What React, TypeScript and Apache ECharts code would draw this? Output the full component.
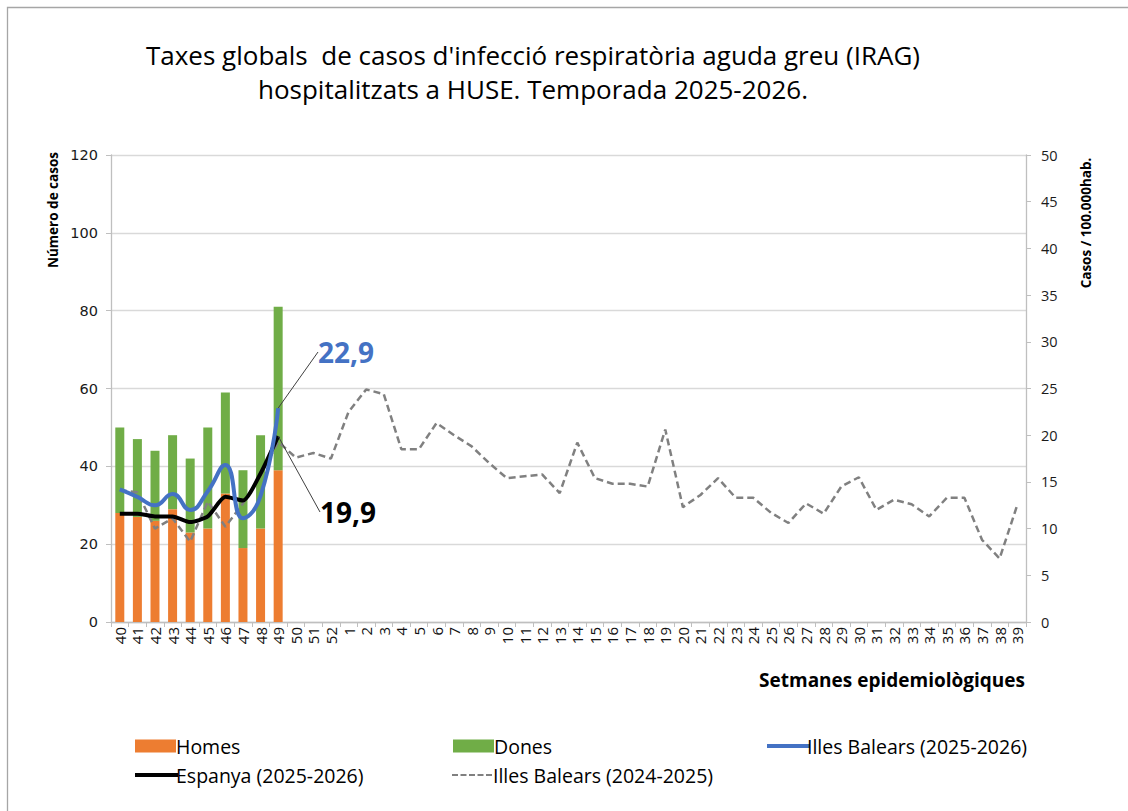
import React, { useEffect, useRef } from "react";
import * as echarts from "echarts";

const weeks = [
  "40","41","42","43","44","45","46","47","48","49","50","51","52",
  "1","2","3","4","5","6","7","8","9","10","11","12","13","14","15","16","17","18","19","20",
  "21","22","23","24","25","26","27","28","29","30","31","32","33","34","35","36","37","38","39",
];
const homes = [28, 27, 26, 29, 23, 24, 33, 19, 24, 39];
const dones = [22, 20, 18, 19, 19, 26, 26, 20, 24, 42];
const balears2526 = [14.2, 13.4, 12.5, 13.7, 12.0, 14.0, 16.8, 11.1, 13.5, 22.9];
const espanya2526 = [11.6, 11.6, 11.3, 11.3, 10.7, 11.3, 13.4, 13.0, 15.9, 19.9];
const balears2425 = [
  14.1, 13.9, 10.0, 11.1, 8.6, 12.9, 10.2, 12.7, 15.7, 19.3, 17.6, 18.1, 17.5,
  22.5, 24.9, 24.4, 18.5, 18.5, 21.3, 20.0, 18.8, 17.0, 15.4, 15.6, 15.8, 13.8, 19.2,
  15.4, 14.8, 14.8, 14.5, 20.6, 12.3, 13.6, 15.4, 13.3, 13.3, 11.7, 10.6, 12.7, 11.6,
  14.5, 15.5, 12.0, 13.1, 12.6, 11.3, 13.3, 13.3, 8.8, 6.8, 12.5,
];
const leftTicks = { min: 0, max: 120, interval: 20 };
const rightTicks = { min: 0, max: 50, interval: 5 };

const titleLines = [
  "Taxes globals  de casos d'infecció respiratòria aguda greu (IRAG)",
  "hospitalitzats a HUSE. Temporada 2025-2026.",
];

function lastLabel(values: number[], color: string) {
  return values.map((v, i) =>
    i === values.length - 1
      ? {
          value: v,
          label: {
            show: true,
            formatter: (p: any) => String(p.value).replace(".", ","),
            color,
            fontSize: 28,
            fontWeight: "bold",
            fontFamily: "Open Sans",
          },
          labelLine: { show: true, length2: 6, lineStyle: { color: "#404040", width: 1 } },
        }
      : v
  );
}

const dashIcon =
  "path://M0,0h6v2h-6z M8.5,0h6v2h-6z M17,0h6v2h-6z M25.5,0h6v2h-6z M34,0h6v2h-6z";

export default function App() {
  const ref = useRef<HTMLDivElement>(null);
  useEffect(() => {
    const chart = echarts.init(ref.current!, undefined, { renderer: "svg" });
    const font = "Open Sans";
    const legendText = { fontSize: 19.5, color: "#000", fontFamily: font };
    const legendBase = { itemGap: 0, selectedMode: false };
    chart.setOption({
      animation: false,
      backgroundColor: "#fff",
      textStyle: { fontFamily: font },
      graphic: [
        {
          type: "rect",
          shape: { x: 7.5, y: 7.5, width: 1300, height: 1000 },
          style: { fill: "none", stroke: "#a6a6a6", lineWidth: 1.3 },
          silent: true,
        },
        ...titleLines.map((t, i) => ({
          type: "text",
          x: 533,
          y: 55 + i * 34,
          style: {
            text: t,
            fontSize: 26,
            fontFamily: font,
            fill: "#000",
            textAlign: "center",
            textVerticalAlign: "middle",
          },
        })),
        {
          type: "text",
          x: 53,
          y: 210,
          rotation: Math.PI / 2,
          style: {
            text: "Número de casos",
            fontSize: 13.5,
            fontWeight: "bold",
            fontFamily: font,
            fill: "#000",
            textAlign: "center",
            textVerticalAlign: "middle",
          },
        },
        {
          type: "text",
          x: 1086,
          y: 223,
          rotation: Math.PI / 2,
          style: {
            text: "Casos / 100.000hab.",
            fontSize: 13.5,
            fontWeight: "bold",
            fontFamily: font,
            fill: "#000",
            textAlign: "center",
            textVerticalAlign: "middle",
          },
        },
        {
          type: "text",
          x: 1025,
          y: 680,
          style: {
            text: "Setmanes epidemiològiques",
            fontSize: 19,
            fontWeight: "bold",
            fontFamily: font,
            fill: "#000",
            textAlign: "right",
            textVerticalAlign: "middle",
          },
        },
      ],
      legend: [
        { ...legendBase, data: ["Homes"], left: 130, top: 731, icon: "rect", itemWidth: 41, itemHeight: 13, textStyle: { ...legendText, padding: [0, 0, 0, -5] } },
        { ...legendBase, data: ["Dones"], left: 448, top: 731, icon: "rect", itemWidth: 41, itemHeight: 13, textStyle: { ...legendText, padding: [0, 0, 0, -5] } },
        { ...legendBase, data: ["Illes Balears (2025-2026)"], left: 762, top: 731, icon: "rect", itemWidth: 43, itemHeight: 4, textStyle: { ...legendText, padding: [0, 0, 0, -8] } },
        { ...legendBase, data: ["Espanya (2025-2026)"], left: 130, top: 760, icon: "rect", itemWidth: 43, itemHeight: 4, textStyle: { ...legendText, padding: [0, 0, 0, -7] } },
        { ...legendBase, data: ["Illes Balears (2024-2025)"], left: 447, top: 760, icon: dashIcon, itemWidth: 40, itemHeight: 2, textStyle: { ...legendText, padding: [0, 0, 0, -4] } },
      ],
      grid: { left: 111, right: 102, top: 155, bottom: 189 },
      xAxis: {
        type: "category",
        data: weeks,
        boundaryGap: true,
        axisLine: { lineStyle: { color: "#bfbfbf", width: 1.3 } },
        axisTick: { show: true, length: 5, lineStyle: { color: "#bfbfbf" } },
        axisLabel: {
          rotate: 90,
          interval: 0,
          fontSize: 15,
          color: "#111",
          fontFamily: font,
          margin: 5,
        },
      },
      yAxis: [
        {
          type: "value",
          ...leftTicks,
          axisLine: { show: true, lineStyle: { color: "#bfbfbf", width: 1.3 } },
          axisTick: { show: true, length: 5, lineStyle: { color: "#bfbfbf" } },
          splitLine: { lineStyle: { color: "#d9d9d9", width: 1.3 } },
          axisLabel: { fontSize: 14.5, color: "#1a1a1a", fontFamily: "DejaVu Sans", margin: 13 },
        },
        {
          type: "value",
          ...rightTicks,
          position: "right",
          axisLine: { show: true, lineStyle: { color: "#bfbfbf", width: 1.3 } },
          axisTick: { show: true, length: 5, lineStyle: { color: "#bfbfbf" } },
          splitLine: { show: false },
          axisLabel: { fontSize: 14.5, color: "#1a1a1a", fontFamily: font, margin: 15 },
        },
      ],
      series: [
        {
          name: "Homes",
          type: "bar",
          stack: "casos",
          data: homes,
          barWidth: 9,
          itemStyle: { color: "#ED7D31" },
        },
        {
          name: "Dones",
          type: "bar",
          stack: "casos",
          data: dones,
          barWidth: 9,
          itemStyle: { color: "#70AD47" },
        },
        {
          name: "Illes Balears (2024-2025)",
          type: "line",
          yAxisIndex: 1,
          data: balears2425,
          symbol: "none",
          lineStyle: { color: "#808080", width: 2.5, type: [7, 4] },
          itemStyle: { color: "#808080" },
          z: 3,
        },
        {
          name: "Espanya (2025-2026)",
          type: "line",
          yAxisIndex: 1,
          data: lastLabel(espanya2526, "#000"),
          symbol: "circle",
          symbolSize: 0,
          showSymbol: true,
          smooth: 0.2,
          lineStyle: { color: "#000", width: 4 },
          itemStyle: { color: "#000" },
          labelLayout: { x: 320, y: 512, align: "left", verticalAlign: "middle" },
          z: 4,
        },
        {
          name: "Illes Balears (2025-2026)",
          type: "line",
          yAxisIndex: 1,
          data: lastLabel(balears2526, "#4472C4"),
          symbol: "circle",
          symbolSize: 0,
          showSymbol: true,
          smooth: 0.5,
          lineStyle: { color: "#4472C4", width: 4 },
          itemStyle: { color: "#4472C4" },
          labelLayout: { x: 318, y: 352, align: "left", verticalAlign: "middle" },
          z: 5,
        },
      ],
    });
    return () => chart.dispose();
  }, []);
  return (
    <div
      ref={ref}
      style={{ position: "fixed", left: 0, top: 0, width: 1128, height: 811 }}
    />
  );
}
